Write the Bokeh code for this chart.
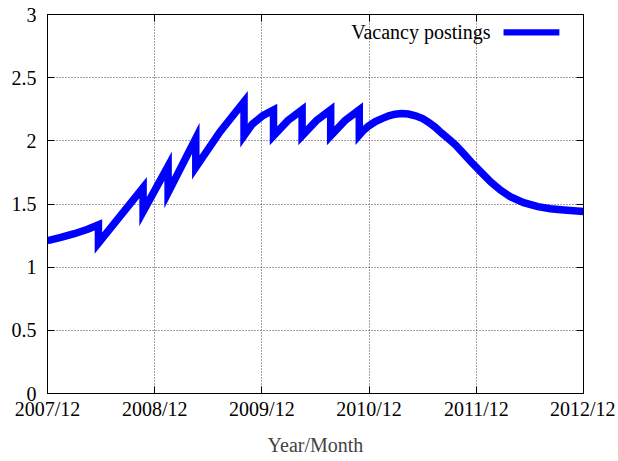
from bokeh.plotting import figure
from bokeh.models import Range1d, FixedTicker, LinearAxis, Label, BoxAnnotation
from bokeh.embed import file_html
from bokeh.resources import INLINE

# months since 2007/12
months = [0, 1.5, 3.0, 4.5, 5.7, 5.7, 10.7, 10.7, 13.5, 13.5, 16.6, 16.6, 19.3, 22.0,
          22.0, 22.9, 24.1, 25.3, 25.3, 26.9, 28.5, 28.5, 30.1, 31.7, 31.7, 33.3, 34.9,
          34.9, 35.4, 35.9, 36.7, 37.5, 38.2, 38.9, 39.6, 40.4, 41.2, 42.0, 42.7, 43.4,
          44.1, 44.9, 45.7, 46.5, 47.4, 48.5, 49.6, 50.7, 51.8, 53.3, 54.9, 56.3, 57.8, 60.0]
postings = [1.21, 1.235, 1.265, 1.30, 1.335, 1.19, 1.63, 1.44, 1.80, 1.59, 2.02, 1.79, 2.07, 2.31,
            2.04, 2.13, 2.20, 2.245, 2.04, 2.16, 2.245, 2.04, 2.16, 2.245, 2.04, 2.16, 2.245,
            2.045, 2.085, 2.115, 2.152, 2.178, 2.198, 2.211, 2.216, 2.212, 2.198, 2.176, 2.145, 2.108,
            2.062, 2.015, 1.966, 1.905, 1.834, 1.755, 1.676, 1.61, 1.558, 1.51, 1.479, 1.462, 1.452, 1.44]

x_ticks = [0, 12, 24, 36, 48, 60]
x_tick_labels = ["2007/12", "2008/12", "2009/12", "2010/12", "2011/12", "2012/12"]
y_ticks = [0, 0.5, 1, 1.5, 2, 2.5, 3]
y_tick_labels = ["0", "0.5", "1", "1.5", "2", "2.5", "3"]
series_name = "Vacancy postings"
x_title = "Year/Month"

FONT = "Liberation Serif"
FS = "20px"

p = figure(width=615, height=458, output_backend="svg", toolbar_location=None,
           x_range=Range1d(0, 60), y_range=Range1d(0, 3),
           min_border_left=47, min_border_right=32, min_border_top=14, min_border_bottom=64)
p.outline_line_color = "black"
p.outline_line_width = 1

p.line(months, postings, line_color="#0000ff", line_width=7.5, line_join="miter")

def style_axis(ax, ticks, labels, show_labels=True):
    ax.ticker = FixedTicker(ticks=ticks)
    ax.major_label_overrides = {t: l for t, l in zip(ticks, labels)}
    ax.major_tick_in = 7
    ax.major_tick_out = 0
    ax.minor_tick_in = 0
    ax.minor_tick_out = 0
    ax.major_tick_line_color = "black"
    ax.axis_line_color = "black"
    ax.major_label_text_font = FONT
    ax.major_label_text_font_size = FS if show_labels else "0px"
    ax.major_label_text_color = "black"
    if not show_labels:
        ax.major_label_standoff = 0

style_axis(p.xaxis[0], x_ticks, x_tick_labels)
style_axis(p.yaxis[0], y_ticks, y_tick_labels)
p.xaxis[0].major_label_standoff = 4
p.yaxis[0].major_label_standoff = 11
p.xaxis[0].axis_label = x_title
p.xaxis[0].axis_label_text_font = FONT
p.xaxis[0].axis_label_text_font_size = FS
p.xaxis[0].axis_label_text_font_style = "normal"
p.xaxis[0].axis_label_standoff = 11

top_ax = LinearAxis()
style_axis(top_ax, x_ticks, [""] * len(x_ticks), show_labels=False)
p.add_layout(top_ax, "above")
right_ax = LinearAxis()
style_axis(right_ax, y_ticks, [""] * len(y_ticks), show_labels=False)
p.add_layout(right_ax, "right")

for g, t in ((p.xgrid[0], x_ticks), (p.ygrid[0], y_ticks)):
    g.ticker = FixedTicker(ticks=t)
    g.grid_line_color = "#444444"
    g.grid_line_dash = "1 2"
    g.grid_line_width = 1

# legend (gnuplot style: text then sample)
p.add_layout(Label(x=49.6, y=2.858, text=series_name, text_align="right", text_baseline="middle",
                   text_font=FONT, text_font_size=FS, text_color="black"))
p.add_layout(BoxAnnotation(left=51.05, right=57.3, bottom=2.858 - 0.025, top=2.858 + 0.025,
                           fill_color="#0000ff", fill_alpha=1.0, line_color=None))

open("out.html", "w").write(file_html(p, INLINE))
